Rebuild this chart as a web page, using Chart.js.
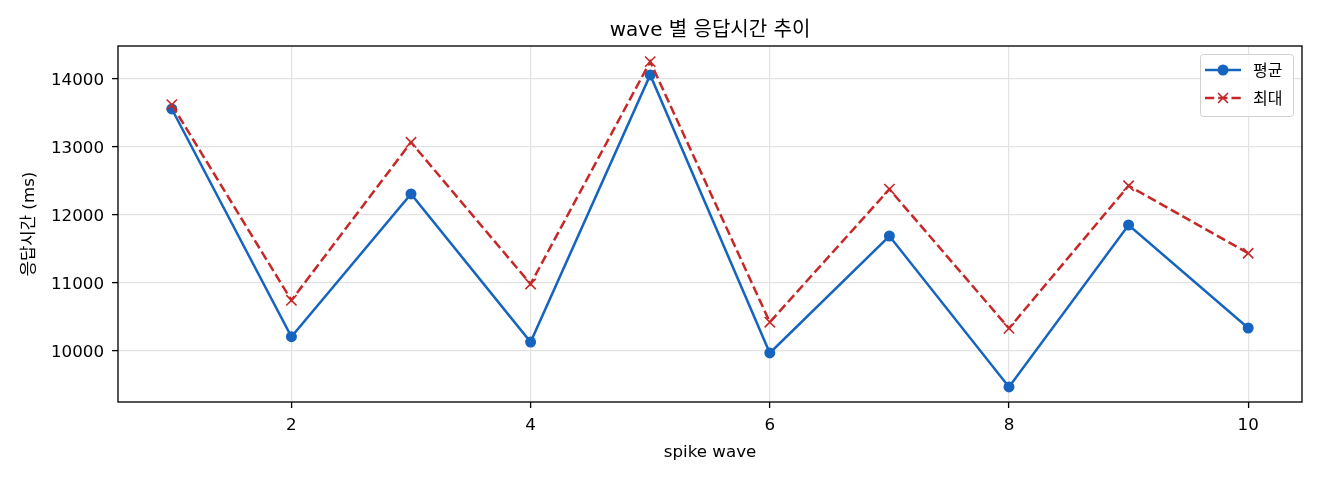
<!DOCTYPE html>
<html lang="ko">
<head>
<meta charset="utf-8">
<title>wave 별 응답시간 추이</title>
<script src="https://cdn.jsdelivr.net/npm/chart.js@4"></script>
<style>
  html, body { margin: 0; padding: 0; background: #fff; }
  #wrap { width: 1320px; height: 480px; position: relative; }
</style>
</head>
<body>
<div id="wrap"><canvas id="myChart"></canvas></div>
<script>
// 데이터
const waves = [1, 2, 3, 4, 5, 6, 7, 8, 9, 10];
const avg_ms = [13559, 10210, 12309, 10132, 14059, 9971, 11691, 9471, 11853, 10338];
const max_ms = [13622, 10745, 13069, 10985, 14255, 10424, 12379, 10333, 12430, 11437];
const xTicks = [2, 4, 6, 8, 10];
const yTicks = [10000, 11000, 12000, 13000, 14000];
const chartTitle = "wave 별 응답시간 추이";

const BLUE = "#1565c0";
const RED = "#c62828";
const FONT = "'DejaVu Sans', 'Noto Sans CJK KR', sans-serif";
const KFONT = "'Noto Sans CJK KR', 'DejaVu Sans', sans-serif";

const toPoints = (vals) => vals.map((v, i) => ({ x: waves[i], y: v }));

// 제목, 축 테두리, 범례
const framePlugin = {
  id: "frame",
  afterDatasetsDraw(chart) {
    const { ctx, chartArea: a } = chart;
    ctx.save();
    ctx.fillStyle = "#000";
    ctx.font = "20px " + FONT;
    ctx.textAlign = "center";
    ctx.textBaseline = "middle";
    ctx.fillText(chartTitle, (a.left + a.right) / 2, 31);

    ctx.strokeStyle = "#000";
    ctx.lineWidth = 1.33;
    ctx.strokeRect(a.left, a.top, a.right - a.left, a.bottom - a.top);

    // 범례
    const w = 93, h = 62;
    const bx = a.right - 9 - w, by = a.top + 8;
    ctx.fillStyle = "rgba(255,255,255,0.8)";
    ctx.strokeStyle = "#d0d0d0";
    ctx.lineWidth = 1;
    ctx.beginPath();
    ctx.roundRect(bx + 0.5, by + 0.5, w, h, 3);
    ctx.fill();
    ctx.stroke();

    const items = [
      { label: "평균", color: BLUE, dash: [], marker: "circle" },
      { label: "최대", color: RED, dash: [9.25, 4], marker: "x" }
    ];
    items.forEach((it, i) => {
      const y = by + 16 + i * 28;
      const x0 = bx + 5, x1 = bx + 41, xm = (x0 + x1) / 2;
      ctx.strokeStyle = it.color;
      ctx.lineWidth = 2.5;
      ctx.setLineDash(it.dash);
      ctx.beginPath();
      ctx.moveTo(x0, y);
      ctx.lineTo(x1, y);
      ctx.stroke();
      ctx.setLineDash([]);
      if (it.marker === "circle") {
        ctx.fillStyle = it.color;
        ctx.beginPath();
        ctx.arc(xm, y, 5.5, 0, Math.PI * 2);
        ctx.fill();
      } else {
        ctx.lineWidth = 1.6;
        ctx.beginPath();
        ctx.moveTo(xm - 5, y - 5); ctx.lineTo(xm + 5, y + 5);
        ctx.moveTo(xm - 5, y + 5); ctx.lineTo(xm + 5, y - 5);
        ctx.stroke();
      }
      ctx.fillStyle = "#000";
      ctx.font = "16px " + KFONT;
      ctx.textBaseline = "middle";
      ctx.textAlign = "left";
      ctx.fillText(it.label, bx + 53, y);
    });
    ctx.restore();
  }
};

const config = {
  type: "line",
  data: {
    datasets: [
      {
        label: "평균",
        data: toPoints(avg_ms),
        borderColor: BLUE,
        backgroundColor: BLUE,
        borderWidth: 2.5,
        pointStyle: "circle",
        pointRadius: 5.5,
        pointBorderWidth: 0,
        order: 1
      },
      {
        label: "최대",
        data: toPoints(max_ms),
        borderColor: RED,
        backgroundColor: RED,
        borderWidth: 2.5,
        borderDash: [9.25, 4],
        pointStyle: "crossRot",
        pointRadius: 7.3,
        pointBorderWidth: 1.6,
        order: 0
      }
    ]
  },
  options: {
    responsive: true,
    maintainAspectRatio: false,
    animation: false,
    layout: { padding: { left: 0, right: 18, top: 46, bottom: 0 } },
    plugins: {
      legend: { display: false },
      tooltip: { enabled: false },
      title: { display: false }
    },
    scales: {
      x: {
        type: "linear",
        min: 0.55,
        max: 10.45,
        afterBuildTicks: (s) => { s.ticks = xTicks.map(v => ({ value: v })); },
        afterFit: (s) => { s.height = 78; },
        grid: { color: "#e3e3e3", lineWidth: 1.2, tickLength: 6, tickColor: "#000", tickWidth: 1.33 },
        border: { display: false },
        ticks: { color: "#000", padding: 8, font: { family: FONT, size: 16.7, lineHeight: 1.2 } },
        title: {
          display: true, text: "spike wave", color: "#000",
          font: { family: FONT, size: 16.7, lineHeight: 1.2 }, padding: { top: 0, bottom: 17 }
        }
      },
      y: {
        type: "linear",
        min: 9250,
        max: 14485,
        afterBuildTicks: (s) => { s.ticks = yTicks.map(v => ({ value: v })); },
        afterFit: (s) => { s.width = 118; },
        grid: { color: "#e3e3e3", lineWidth: 1.2, tickLength: 6, tickColor: "#000", tickWidth: 1.33 },
        border: { display: false },
        ticks: {
          color: "#000", padding: 8, labelOffset: 2, font: { family: FONT, size: 16.7 },
          callback: (v) => String(v)
        },
        title: {
          display: true, text: "응답시간 (ms)", color: "#000",
          font: { family: FONT, size: 16.7, lineHeight: 1.2 }, padding: { top: 20, bottom: 0 }
        }
      }
    }
  },
  plugins: [framePlugin]
};

const myChart = new Chart(document.getElementById("myChart"), config);
</script>
</body>
</html>
